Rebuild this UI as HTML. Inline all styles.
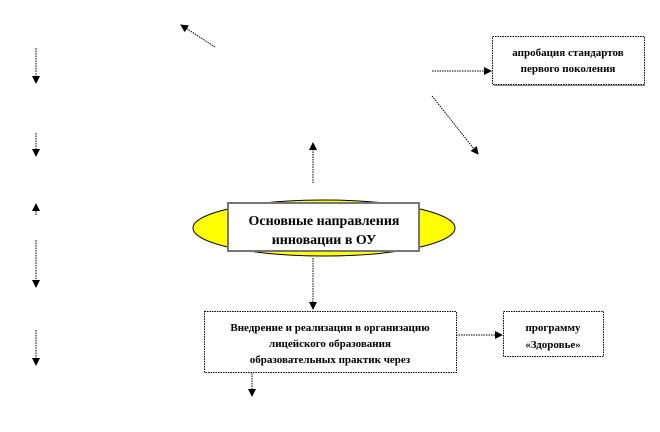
<!DOCTYPE html>
<html><head><meta charset="utf-8"><style>
html,body{margin:0;padding:0;background:#fff;width:660px;height:432px;overflow:hidden}
text{font-family:"Liberation Serif",serif;font-weight:bold;fill:#000}
</style></head><body>
<svg width="660" height="432" viewBox="0 0 660 432" xmlns="http://www.w3.org/2000/svg">
<defs><marker id="a" markerWidth="8" markerHeight="8" refX="7" refY="4" orient="auto" markerUnits="userSpaceOnUse"><path d="M0,0 L8,4 L0,8 z" fill="#000"/></marker></defs>
<g stroke="#000" stroke-width="1" stroke-dasharray="1.5,1" fill="none" marker-end="url(#a)">
<line x1="215" y1="47" x2="181" y2="25"/>
<line x1="432" y1="71" x2="491" y2="71"/>
<line x1="432" y1="96" x2="478" y2="154"/>
<line x1="313" y1="183" x2="313" y2="143"/>
<line x1="313" y1="258" x2="313" y2="309"/>
<line x1="456" y1="335" x2="502" y2="335"/>
<line x1="252" y1="373" x2="252" y2="396"/>
<line x1="36" y1="48" x2="36" y2="83"/>
<line x1="36" y1="133" x2="36" y2="156"/>
<line x1="36" y1="215" x2="36" y2="204"/>
<line x1="36" y1="240" x2="36" y2="287"/>
<line x1="36" y1="330" x2="36" y2="365"/>
</g>
<ellipse cx="324" cy="228" rx="131" ry="28" fill="#ffff00" stroke="#000" stroke-width="1"/>
<rect x="228" y="203" width="191" height="48" fill="#fff" stroke="#777" stroke-width="2"/>
<text x="324" y="225" font-size="14" text-anchor="middle">Основные направления</text>
<text x="324" y="244" font-size="14" text-anchor="middle">инновации в ОУ</text>
<rect x="492.5" y="36.5" width="152" height="48" fill="#fff" stroke="#000" stroke-dasharray="1.5,1"/>
<line x1="494" y1="85.5" x2="645" y2="85.5" stroke="#888"/>
<text x="568" y="56" font-size="11" text-anchor="middle">апробация стандартов</text>
<text x="568" y="72" font-size="11" text-anchor="middle">первого поколения</text>
<rect x="204.5" y="311.5" width="252" height="61" fill="#fff" stroke="#000" stroke-dasharray="1.5,1"/>
<text x="330" y="331" font-size="11" text-anchor="middle">Внедрение и реализация в организацию</text>
<text x="330" y="347" font-size="11" text-anchor="middle">лицейского образования</text>
<text x="330" y="363" font-size="11" text-anchor="middle">образовательных практик через</text>
<rect x="503.5" y="311.5" width="100" height="45" fill="#fff" stroke="#000" stroke-dasharray="1.5,1"/>
<text x="553" y="331" font-size="11" text-anchor="middle">программу</text>
<text x="553" y="348" font-size="11" text-anchor="middle">«Здоровье»</text>
</svg>
</body></html>
